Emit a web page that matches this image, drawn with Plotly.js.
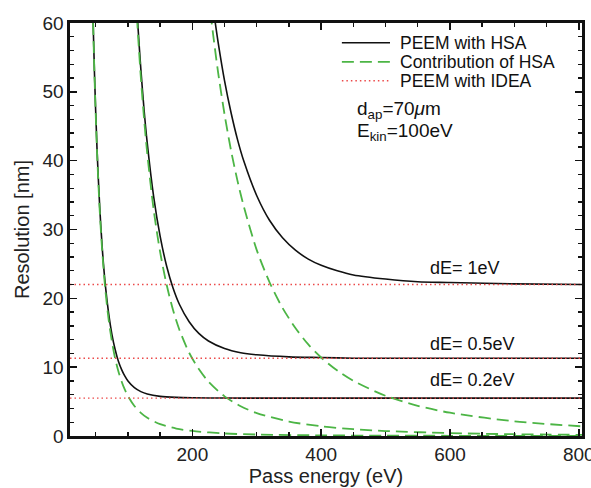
<!DOCTYPE html>
<html>
<head>
<meta charset="utf-8">
<script src="https://cdn.plot.ly/plotly-3.0.1.min.js"></script>
<style>html,body{margin:0;padding:0;background:#fff;}#chart{width:591px;height:488px;}</style>
</head>
<body>
<div id="chart"></div>
<script>
// ---- data ----
const ideaEnergy = [10, 805];
const ideaLevels = [22.0, 11.3, 5.5];            // PEEM with IDEA for dE = 1, 0.5, 0.2 eV

const energy02 = [42,45,48,52,56,60,65,70,75,80,85,90,95,100,110,120,130,150,175,200,250,300,400,500,600,700,805];
const hsa02    = [78.3,63.7,52.5,41.3,33.0,26.9,21.1,16.9,13.8,11.3,9.44,7.96,6.76,5.80,4.36,3.36,2.64,1.72,1.08,0.73,0.37,0.21,0.09,0.05,0.03,0.02,0.01];
const peem02   = [78.5,63.9,52.7,41.6,33.5,27.4,21.8,17.8,14.8,12.6,10.9,9.68,8.72,7.99,7.02,6.45,6.10,5.76,5.61,5.55,5.51,5.50,5.50,5.50,5.50,5.50,5.50];

const energy05 = [108,112,116,120,125,130,140,150,160,170,180,195,210,225,250,275,300,350,400,450,500,600,700,805];
const hsa05    = [71.4,64.1,57.7,52.1,46.1,41.0,32.8,26.7,22.0,18.3,15.4,12.1,9.72,7.90,5.76,4.33,3.33,2.10,1.41,0.99,0.72,0.42,0.26,0.17];
const peem05   = [72.3,65.1,58.8,53.3,47.4,42.5,34.7,29.0,24.7,21.5,19.1,16.6,14.9,13.8,12.7,12.1,11.8,11.5,11.4,11.3,11.3,11.3,11.3,11.3];

const energy1 = [222,226,230,235,240,250,260,270,280,300,320,340,360,380,400,425,450,500,550,600,700,805];
const hsa1    = [66.7,63.2,60.0,56.3,52.8,46.7,41.5,37.1,33.3,27.0,22.3,18.6,15.7,13.3,11.4,9.51,8.01,5.84,4.39,3.38,2.13,1.40];
const peem1   = [70.3,67.0,63.9,60.4,57.2,51.6,47.0,43.1,39.9,34.9,31.3,28.8,27.0,25.7,24.8,24.0,23.4,22.8,22.4,22.3,22.1,22.0];

const seriesNames = ['PEEM with HSA', 'Contribution of HSA', 'PEEM with IDEA'];
const curveLabels = ['dE= 1eV', 'dE= 0.5eV', 'dE= 0.2eV'];
const curveLabelPos = [[566, 24.4], [566, 13.3], [566, 8.2]];
const xTickVals = [200, 400, 600, 800];
const yTickVals = [0, 10, 20, 30, 40, 50, 60];

// ---- styles ----
const FONT = 'Liberation Sans, Arial, sans-serif';
const BLACK = '#111111';
const GREEN = '#4cb545';
const RED = '#ec4a4a';

const blackLine = {color: BLACK, width: 1.6, shape: 'spline', smoothing: 0.8};
const greenLine = {color: GREEN, width: 1.8, dash: '12px,6px', shape: 'spline', smoothing: 0.8};
const redLine = {color: RED, width: 1.4, dash: '1.5px,3px'};

const curves = [[energy1, peem1, hsa1], [energy05, peem05, hsa05], [energy02, peem02, hsa02]];
const traces = [];
curves.forEach(c => traces.push({x: c[0], y: c[1], type: 'scatter', mode: 'lines', line: blackLine, showlegend: false, hoverinfo: 'skip'}));
curves.forEach(c => traces.push({x: c[0], y: c[2], type: 'scatter', mode: 'lines', line: greenLine, showlegend: false, hoverinfo: 'skip'}));
ideaLevels.forEach(v => traces.push({x: ideaEnergy, y: [v, v], type: 'scatter', mode: 'lines', line: redLine, showlegend: false, hoverinfo: 'skip'}));

// manual legend (sample lines + text) in paper coordinates
const legendRowsY = [0.952, 0.906, 0.860];
const legendStyles = [blackLine, greenLine, redLine];
const shapes = legendStyles.map((st, i) => ({
  type: 'line', xref: 'paper', yref: 'paper', x0: 0.531, x1: 0.625, y0: legendRowsY[i], y1: legendRowsY[i],
  line: {color: st.color, width: st.width, dash: st.dash || 'solid'}
}));
const annotations = seriesNames.map((n, i) => ({
  xref: 'paper', yref: 'paper', x: 0.640, y: legendRowsY[i], xanchor: 'left', yanchor: 'middle',
  text: n, showarrow: false, font: {family: FONT, size: 17.5, color: BLACK}
}));
curveLabels.forEach((t, i) => annotations.push({
  xref: 'x', yref: 'y', x: curveLabelPos[i][0], y: curveLabelPos[i][1], xanchor: 'left', yanchor: 'middle',
  text: t, showarrow: false, font: {family: FONT, size: 18, color: BLACK}
}));
annotations.push({xref: 'paper', yref: 'paper', x: 0.557, y: 0.790, xanchor: 'left', yanchor: 'middle',
  text: 'd<sub>ap</sub>=70<i>μ</i>m', showarrow: false, font: {family: FONT, size: 19, color: BLACK}});
annotations.push({xref: 'paper', yref: 'paper', x: 0.557, y: 0.735, xanchor: 'left', yanchor: 'middle',
  text: 'E<sub>kin</sub>=100eV', showarrow: false, font: {family: FONT, size: 19, color: BLACK}});

const axisCommon = {
  showline: true, linewidth: 2.6, linecolor: BLACK, mirror: 'ticks',
  ticks: 'inside', ticklen: 7, tickwidth: 1.6, tickcolor: BLACK,
  showgrid: false, zeroline: false, automargin: false, ticklabeloverflow: 'allow',
  tickfont: {family: FONT, size: 19, color: '#222'}
};

const layout = {
  width: 591, height: 488,
  margin: {l: 70, r: 9, t: 23, b: 52},
  paper_bgcolor: '#fff', plot_bgcolor: '#fff',
  showlegend: false,
  xaxis: Object.assign({}, axisCommon, {
    range: [10, 805], tickmode: 'array', tickvals: xTickVals,
    minor: {tickmode: 'linear', tick0: 0, dtick: 50, ticks: 'inside', ticklen: 4, tickwidth: 1.4, tickcolor: BLACK, showgrid: false},
    title: {text: 'Pass energy (eV)', font: {family: FONT, size: 20, color: '#222'}, standoff: 4}
  }),
  yaxis: Object.assign({}, axisCommon, {
    range: [0, 60], tickmode: 'array', tickvals: yTickVals,
    minor: {tickmode: 'linear', tick0: 0, dtick: 2, ticks: 'inside', ticklen: 4, tickwidth: 1.4, tickcolor: BLACK, showgrid: false},
    title: {text: 'Resolution [nm]', font: {family: FONT, size: 20, color: '#222'}, standoff: 8}
  }),
  shapes: shapes,
  annotations: annotations
};

Plotly.newPlot('chart', traces, layout, {staticPlot: true, displayModeBar: false});
</script>
</body>
</html>
